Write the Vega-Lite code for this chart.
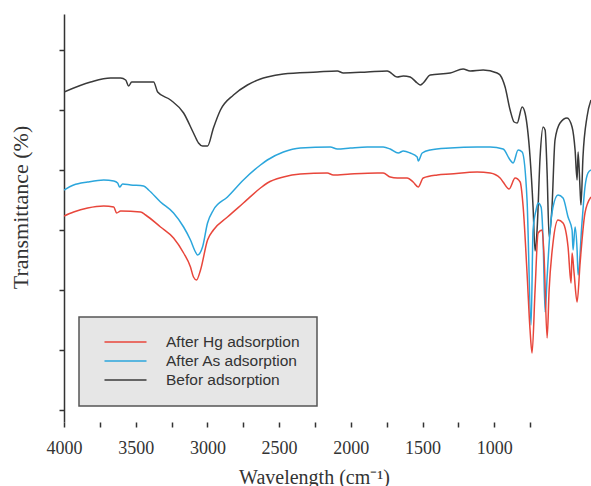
{
  "$schema": "https://vega.github.io/schema/vega-lite/v6.json",
  "width": 527,
  "height": 408,
  "autosize": {"type": "none"},
  "padding": {"left": 64, "top": 14, "right": 0, "bottom": 64},
  "background": "white",
  "config": {
    "view": {"stroke": null},
    "axis": {"grid": false, "domainColor": "#333", "domainWidth": 1.5, "tickColor": "#333", "tickWidth": 1.5, "tickSize": 5,
      "labelFont": "Liberation Serif", "labelFontSize": 18, "labelColor": "#333",
      "titleFont": "Liberation Serif", "titleFontSize": 20, "titleFontWeight": "normal", "titleColor": "#333"}
  },
  "datasets": {
    "spectra": [
      {"w":4000,"t":330,"s":"Befor adsorption"},{"w":3814,"t":340,"s":"Befor adsorption"},{"w":3675,"t":344,"s":"Befor adsorption"},{"w":3605,"t":344,"s":"Befor adsorption"},{"w":3570,"t":342,"s":"Befor adsorption"},{"w":3549,"t":336,"s":"Befor adsorption"},{"w":3528,"t":340,"s":"Befor adsorption"},{"w":3396,"t":340,"s":"Befor adsorption"},{"w":3375,"t":340,"s":"Befor adsorption"},{"w":3347,"t":330,"s":"Befor adsorption"},{"w":3257,"t":322,"s":"Befor adsorption"},{"w":3166,"t":309,"s":"Befor adsorption"},{"w":3097,"t":289,"s":"Befor adsorption"},{"w":3062,"t":279,"s":"Befor adsorption"},{"w":3034,"t":276,"s":"Befor adsorption"},{"w":2999,"t":276,"s":"Befor adsorption"},{"w":2958,"t":294,"s":"Befor adsorption"},{"w":2909,"t":312,"s":"Befor adsorption"},{"w":2818,"t":327,"s":"Befor adsorption"},{"w":2721,"t":337,"s":"Befor adsorption"},{"w":2630,"t":343,"s":"Befor adsorption"},{"w":2582,"t":345,"s":"Befor adsorption"},{"w":2470,"t":348,"s":"Befor adsorption"},{"w":2233,"t":350,"s":"Befor adsorption"},{"w":2094,"t":351,"s":"Befor adsorption"},{"w":2052,"t":349,"s":"Befor adsorption"},{"w":1885,"t":350,"s":"Befor adsorption"},{"w":1746,"t":351,"s":"Befor adsorption"},{"w":1676,"t":345,"s":"Befor adsorption"},{"w":1634,"t":346,"s":"Befor adsorption"},{"w":1586,"t":345,"s":"Befor adsorption"},{"w":1537,"t":339,"s":"Befor adsorption"},{"w":1516,"t":337,"s":"Befor adsorption"},{"w":1495,"t":339,"s":"Befor adsorption"},{"w":1446,"t":347,"s":"Befor adsorption"},{"w":1307,"t":349,"s":"Befor adsorption"},{"w":1217,"t":353,"s":"Befor adsorption"},{"w":1168,"t":351,"s":"Befor adsorption"},{"w":1077,"t":352,"s":"Befor adsorption"},{"w":980,"t":349,"s":"Befor adsorption"},{"w":959,"t":347,"s":"Befor adsorption"},{"w":924,"t":335,"s":"Befor adsorption"},{"w":889,"t":312,"s":"Befor adsorption"},{"w":861,"t":300,"s":"Befor adsorption"},{"w":840,"t":299,"s":"Befor adsorption"},{"w":805,"t":315,"s":"Befor adsorption"},{"w":785,"t":309,"s":"Befor adsorption"},{"w":750,"t":265,"s":"Befor adsorption"},{"w":729,"t":215,"s":"Befor adsorption"},{"w":715,"t":171,"s":"Befor adsorption"},{"w":701,"t":192,"s":"Befor adsorption"},{"w":680,"t":265,"s":"Befor adsorption"},{"w":659,"t":295,"s":"Befor adsorption"},{"w":645,"t":292,"s":"Befor adsorption"},{"w":631,"t":249,"s":"Befor adsorption"},{"w":617,"t":185,"s":"Befor adsorption"},{"w":597,"t":215,"s":"Befor adsorption"},{"w":576,"t":282,"s":"Befor adsorption"},{"w":541,"t":299,"s":"Befor adsorption"},{"w":492,"t":304,"s":"Befor adsorption"},{"w":457,"t":295,"s":"Befor adsorption"},{"w":436,"t":272,"s":"Befor adsorption"},{"w":422,"t":242,"s":"Befor adsorption"},{"w":415,"t":270,"s":"Befor adsorption"},{"w":401,"t":232,"s":"Befor adsorption"},{"w":395,"t":217,"s":"Befor adsorption"},{"w":381,"t":265,"s":"Befor adsorption"},{"w":353,"t":305,"s":"Befor adsorption"},{"w":325,"t":322,"s":"Befor adsorption"},

      {"w":4000,"t":232,"s":"After As adsorption"},{"w":3933,"t":237,"s":"After As adsorption"},{"w":3835,"t":240,"s":"After As adsorption"},{"w":3723,"t":242,"s":"After As adsorption"},{"w":3653,"t":241,"s":"After As adsorption"},{"w":3626,"t":239,"s":"After As adsorption"},{"w":3612,"t":235,"s":"After As adsorption"},{"w":3591,"t":238,"s":"After As adsorption"},{"w":3535,"t":237,"s":"After As adsorption"},{"w":3445,"t":236,"s":"After As adsorption"},{"w":3410,"t":232,"s":"After As adsorption"},{"w":3327,"t":220,"s":"After As adsorption"},{"w":3236,"t":209,"s":"After As adsorption"},{"w":3166,"t":195,"s":"After As adsorption"},{"w":3118,"t":182,"s":"After As adsorption"},{"w":3083,"t":170,"s":"After As adsorption"},{"w":3069,"t":167,"s":"After As adsorption"},{"w":3034,"t":175,"s":"After As adsorption"},{"w":2999,"t":199,"s":"After As adsorption"},{"w":2958,"t":212,"s":"After As adsorption"},{"w":2860,"t":225,"s":"After As adsorption"},{"w":2749,"t":242,"s":"After As adsorption"},{"w":2630,"t":257,"s":"After As adsorption"},{"w":2582,"t":262,"s":"After As adsorption"},{"w":2470,"t":270,"s":"After As adsorption"},{"w":2352,"t":274,"s":"After As adsorption"},{"w":2143,"t":275,"s":"After As adsorption"},{"w":2094,"t":273,"s":"After As adsorption"},{"w":2003,"t":274,"s":"After As adsorption"},{"w":1885,"t":275,"s":"After As adsorption"},{"w":1774,"t":275,"s":"After As adsorption"},{"w":1725,"t":273,"s":"After As adsorption"},{"w":1669,"t":269,"s":"After As adsorption"},{"w":1634,"t":271,"s":"After As adsorption"},{"w":1586,"t":269,"s":"After As adsorption"},{"w":1537,"t":265,"s":"After As adsorption"},{"w":1530,"t":261,"s":"After As adsorption"},{"w":1502,"t":269,"s":"After As adsorption"},{"w":1446,"t":272,"s":"After As adsorption"},{"w":1307,"t":274,"s":"After As adsorption"},{"w":1119,"t":275,"s":"After As adsorption"},{"w":1028,"t":275,"s":"After As adsorption"},{"w":938,"t":273,"s":"After As adsorption"},{"w":889,"t":262,"s":"After As adsorption"},{"w":868,"t":259,"s":"After As adsorption"},{"w":833,"t":272,"s":"After As adsorption"},{"w":805,"t":270,"s":"After As adsorption"},{"w":771,"t":222,"s":"After As adsorption"},{"w":743,"t":97,"s":"After As adsorption"},{"w":729,"t":192,"s":"After As adsorption"},{"w":708,"t":212,"s":"After As adsorption"},{"w":694,"t":219,"s":"After As adsorption"},{"w":673,"t":215,"s":"After As adsorption"},{"w":659,"t":182,"s":"After As adsorption"},{"w":645,"t":110,"s":"After As adsorption"},{"w":631,"t":145,"s":"After As adsorption"},{"w":610,"t":192,"s":"After As adsorption"},{"w":590,"t":215,"s":"After As adsorption"},{"w":555,"t":227,"s":"After As adsorption"},{"w":520,"t":224,"s":"After As adsorption"},{"w":485,"t":205,"s":"After As adsorption"},{"w":457,"t":192,"s":"After As adsorption"},{"w":450,"t":172,"s":"After As adsorption"},{"w":436,"t":195,"s":"After As adsorption"},{"w":422,"t":172,"s":"After As adsorption"},{"w":415,"t":147,"s":"After As adsorption"},{"w":388,"t":199,"s":"After As adsorption"},{"w":367,"t":235,"s":"After As adsorption"},{"w":346,"t":249,"s":"After As adsorption"},{"w":325,"t":252,"s":"After As adsorption"},

      {"w":4000,"t":206,"s":"After Hg adsorption"},{"w":3933,"t":210,"s":"After Hg adsorption"},{"w":3835,"t":214,"s":"After Hg adsorption"},{"w":3723,"t":216,"s":"After Hg adsorption"},{"w":3653,"t":215,"s":"After Hg adsorption"},{"w":3633,"t":209,"s":"After Hg adsorption"},{"w":3605,"t":211,"s":"After Hg adsorption"},{"w":3466,"t":210,"s":"After Hg adsorption"},{"w":3431,"t":207,"s":"After Hg adsorption"},{"w":3327,"t":195,"s":"After Hg adsorption"},{"w":3236,"t":184,"s":"After Hg adsorption"},{"w":3166,"t":169,"s":"After Hg adsorption"},{"w":3118,"t":155,"s":"After Hg adsorption"},{"w":3097,"t":145,"s":"After Hg adsorption"},{"w":3076,"t":142,"s":"After Hg adsorption"},{"w":3048,"t":152,"s":"After Hg adsorption"},{"w":2999,"t":182,"s":"After Hg adsorption"},{"w":2958,"t":192,"s":"After Hg adsorption"},{"w":2860,"t":205,"s":"After Hg adsorption"},{"w":2749,"t":219,"s":"After Hg adsorption"},{"w":2630,"t":234,"s":"After Hg adsorption"},{"w":2582,"t":239,"s":"After Hg adsorption"},{"w":2470,"t":245,"s":"After Hg adsorption"},{"w":2352,"t":248,"s":"After Hg adsorption"},{"w":2164,"t":249,"s":"After Hg adsorption"},{"w":2122,"t":247,"s":"After Hg adsorption"},{"w":2003,"t":248,"s":"After Hg adsorption"},{"w":1815,"t":249,"s":"After Hg adsorption"},{"w":1774,"t":249,"s":"After Hg adsorption"},{"w":1725,"t":245,"s":"After Hg adsorption"},{"w":1676,"t":244,"s":"After Hg adsorption"},{"w":1607,"t":244,"s":"After Hg adsorption"},{"w":1565,"t":240,"s":"After Hg adsorption"},{"w":1530,"t":235,"s":"After Hg adsorption"},{"w":1495,"t":244,"s":"After Hg adsorption"},{"w":1397,"t":247,"s":"After Hg adsorption"},{"w":1307,"t":248,"s":"After Hg adsorption"},{"w":1119,"t":250,"s":"After Hg adsorption"},{"w":1028,"t":249,"s":"After Hg adsorption"},{"w":959,"t":244,"s":"After Hg adsorption"},{"w":938,"t":240,"s":"After Hg adsorption"},{"w":896,"t":233,"s":"After Hg adsorption"},{"w":854,"t":244,"s":"After Hg adsorption"},{"w":819,"t":240,"s":"After Hg adsorption"},{"w":798,"t":215,"s":"After Hg adsorption"},{"w":771,"t":149,"s":"After Hg adsorption"},{"w":750,"t":92,"s":"After Hg adsorption"},{"w":736,"t":69,"s":"After Hg adsorption"},{"w":715,"t":132,"s":"After Hg adsorption"},{"w":694,"t":189,"s":"After Hg adsorption"},{"w":666,"t":192,"s":"After Hg adsorption"},{"w":652,"t":165,"s":"After Hg adsorption"},{"w":631,"t":84,"s":"After Hg adsorption"},{"w":617,"t":132,"s":"After Hg adsorption"},{"w":590,"t":179,"s":"After Hg adsorption"},{"w":555,"t":202,"s":"After Hg adsorption"},{"w":520,"t":199,"s":"After Hg adsorption"},{"w":485,"t":175,"s":"After Hg adsorption"},{"w":464,"t":139,"s":"After Hg adsorption"},{"w":457,"t":169,"s":"After Hg adsorption"},{"w":443,"t":149,"s":"After Hg adsorption"},{"w":422,"t":120,"s":"After Hg adsorption"},{"w":401,"t":159,"s":"After Hg adsorption"},{"w":367,"t":209,"s":"After Hg adsorption"},{"w":325,"t":225,"s":"After Hg adsorption"}
    ]
  },
  "layer": [
    {
      "data": {"name": "spectra"},
      "mark": {"type": "line", "strokeWidth": 1.5, "interpolate": "monotone", "clip": true},
      "encoding": {
        "x": {"field": "w", "type": "quantitative",
          "scale": {"domain": [325, 4000], "reverse": true, "nice": false, "zero": false},
          "axis": {"title": "Wavelength (cm⁻¹)", "domain": false,
            "values": [4000,3750,3500,3250,3000,2750,2500,2250,2000,1750,1500,1250,1000,750],
            "format": "d", "labelExpr": "datum.value % 500 === 0 ? datum.label : ''",
            "labelFlush": false, "labelOverlap": false, "labelPadding": 12, "titlePadding": 10, "titleX": 250}},
        "y": {"field": "t", "type": "quantitative",
          "scale": {"domain": [0, 408], "nice": false, "zero": false},
          "axis": {"title": "Transmittance (%)", "labels": false, "titleFontSize": 22,
            "values": [12, 72, 132, 192, 252, 312, 372], "titlePadding": 26, "titleY": 193}},
        "color": {"field": "s", "type": "nominal",
          "scale": {"domain": ["After Hg adsorption", "After As adsorption", "Befor adsorption"],
                    "range": ["#e8463b", "#2ba6dc", "#3a3a3a"]},
          "legend": {"title": null, "orient": "none", "legendX": 15, "legendY": 303,
            "fillColor": "#e6e6e6", "strokeColor": "#555", "padding": 17,
            "symbolType": "M-3,0H3", "symbolSize": 196, "symbolStrokeWidth": 1.5, "symbolOffset": 21.5,
            "labelFont": "Liberation Sans", "labelFontSize": 15.5, "labelColor": "#333",
            "labelOffset": 32.5, "rowPadding": 2,
            "encode": {"legend": {"update": {"strokeWidth": {"value": 1.5}}}}}}
      }
    },
    {
      "mark": {"type": "rule", "color": "#333", "strokeWidth": 1.5},
      "encoding": {"y": {"datum": 408}}
    },
    {
      "mark": {"type": "rule", "color": "#333", "strokeWidth": 1.5},
      "encoding": {"x": {"datum": 4000}, "x2": {"datum": 667}, "y": {"datum": 0}}
    }
  ]
}
